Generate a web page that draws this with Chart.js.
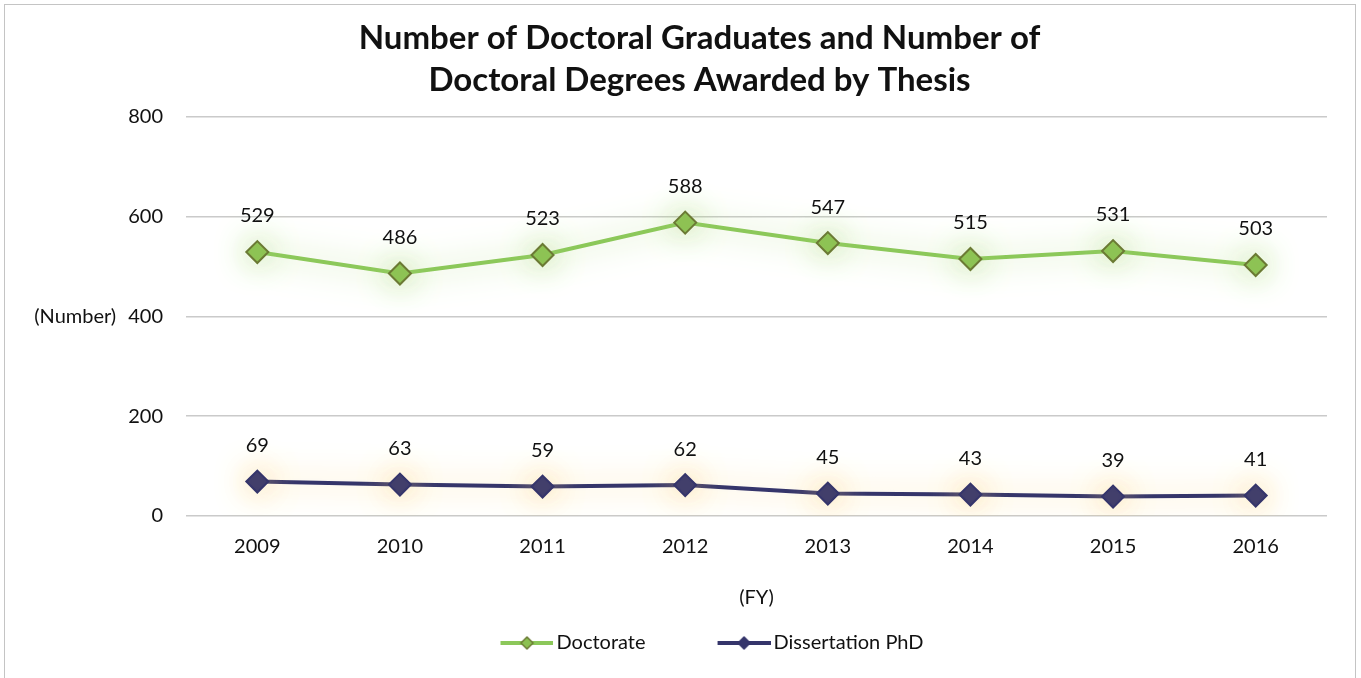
<!DOCTYPE html>
<html>
<head>
<meta charset="utf-8">
<script src="https://cdn.jsdelivr.net/npm/chart.js@4.4.1/dist/chart.umd.min.js"></script>
<style>
  html, body { margin: 0; padding: 0; background: #fff; overflow: hidden; }
  #wrap { position: relative; width: 1361px; height: 678px; }
  #frame { position: absolute; left: 4px; top: 4px; width: 1350px; height: 700px; border: 1.5px solid #c4c4c4; pointer-events: none; }
</style>
</head>
<body>
<div id="wrap">
  <canvas id="grafico" width="1361" height="678"></canvas>
  <div id="frame"></div>
</div>
<script>
const years = ['2009', '2010', '2011', '2012', '2013', '2014', '2015', '2016'];
const doctorate = [529, 486, 523, 588, 547, 515, 531, 503];
const dissertationPhd = [69, 63, 59, 62, 45, 43, 39, 41];
const yTicks = [0, 200, 400, 600, 800];
const yAxisLabel = '(Number)';

const FONT = 'Lato, "Open Sans", sans-serif';
const glowColors = ['rgba(170, 215, 120, 1)', 'rgba(246, 205, 120, 1)'];

// legend icon: empty lead on the left (item spacing), then line with a diamond
const BOX_W = 71;
function legendIcon(lineColor, fill, border) {
  const c = document.createElement('canvas');
  c.width = 85; c.height = 16;
  const g = c.getContext('2d');
  g.strokeStyle = lineColor;
  g.lineWidth = 4;
  g.beginPath(); g.moveTo(32, 8); g.lineTo(85, 8); g.stroke();
  const cx = 58.5;
  g.beginPath();
  g.moveTo(cx, 2); g.lineTo(cx + 6, 8); g.lineTo(cx, 14); g.lineTo(cx - 6, 8); g.closePath();
  g.fillStyle = fill; g.fill();
  g.lineWidth = 1.5; g.strokeStyle = border; g.stroke();
  return c;
}
const icons = [
  legendIcon('#8cc85a', '#8cc152', '#6b7a34'),
  legendIcon('#35356b', '#35356b', '#35356b')
];

const glow = {
  id: 'glow',
  beforeDatasetDraw(chart, args) {
    const ctx = chart.ctx;
    ctx.save();
    ctx.shadowColor = glowColors[args.index];
    ctx.shadowBlur = 32;
  },
  afterDatasetDraw(chart) {
    chart.ctx.restore();
  }
};

const valueLabels = {
  id: 'valueLabels',
  afterDatasetsDraw(chart) {
    const ctx = chart.ctx;
    ctx.save();
    ctx.font = '20px ' + FONT;
    ctx.fillStyle = '#111';
    ctx.textAlign = 'center';
    ctx.textBaseline = 'middle';
    chart.data.datasets.forEach((ds, i) => {
      chart.getDatasetMeta(i).data.forEach((p, j) => {
        ctx.fillText(ds.data[j], p.x, p.y - 36);
      });
    });
    ctx.restore();
  }
};

// "(Number)" sits horizontally left of the 400 tick
const sideLabel = {
  id: 'sideLabel',
  afterDraw(chart) {
    const ctx = chart.ctx;
    const y = chart.scales.y;
    ctx.save();
    ctx.font = '20px ' + FONT;
    ctx.fillStyle = '#111';
    ctx.textAlign = 'right';
    ctx.textBaseline = 'middle';
    const x = y.right - 23 - ctx.measureText('400').width - 12;
    ctx.fillText(yAxisLabel, x, y.getPixelForValue(400));
    ctx.restore();
  }
};

new Chart(document.getElementById('grafico'), {
  type: 'line',
  data: {
    labels: years,
    datasets: [{
      label: 'Doctorate',
      data: doctorate,
      borderColor: '#8cc85a',
      borderWidth: 4,
      pointStyle: 'rectRot',
      pointRadius: 11,
      pointHoverRadius: 11,
      pointBackgroundColor: '#8cc152',
      pointBorderColor: '#6b7a34',
      pointBorderWidth: 2,
      tension: 0
    }, {
      label: 'Dissertation PhD',
      data: dissertationPhd,
      borderColor: '#35356b',
      borderWidth: 4,
      pointStyle: 'rectRot',
      pointRadius: 11,
      pointHoverRadius: 11,
      pointBackgroundColor: '#35356b',
      pointBorderColor: '#35356b',
      pointBorderWidth: 2,
      tension: 0
    }]
  },
  options: {
    responsive: false,
    animation: false,
    devicePixelRatio: 1,
    layout: { padding: { left: 72, right: 34, top: 0, bottom: 15 } },
    plugins: {
      title: {
        display: true,
        text: ['Number of Doctoral Graduates and Number of', 'Doctoral Degrees Awarded by Thesis'],
        color: '#111',
        font: { family: FONT, size: 33, weight: 'bold', lineHeight: 1.27 },
        padding: { top: 17, bottom: 16 }
      },
      legend: {
        position: 'bottom',
        labels: {
          usePointStyle: true,
          pointStyleWidth: BOX_W,
          padding: 47,
          color: '#111',
          font: { family: FONT, size: 20 },
          generateLabels: chart => chart.data.datasets.map((ds, i) => ({
            text: ds.label,
            pointStyle: icons[i],
            datasetIndex: i,
            hidden: false,
            fontColor: '#111',
            lineWidth: 0,
            strokeStyle: 'transparent',
            fillStyle: 'transparent'
          }))
        }
      },
      tooltip: { enabled: false }
    },
    scales: {
      x: {
        offset: true,
        grid: { display: false, drawTicks: false },
        border: { display: false },
        ticks: { color: '#111', font: { family: FONT, size: 20 }, padding: 19 },
        title: {
          display: true,
          text: '(FY)',
          color: '#111',
          font: { family: FONT, size: 20 },
          padding: { top: 8, bottom: -24 }
        }
      },
      y: {
        min: 0,
        max: 800,
        afterBuildTicks: scale => { scale.ticks = yTicks.map(v => ({ value: v })); },
        afterFit: scale => { scale.width = 114; },
        grid: { color: '#cacaca', lineWidth: 1.5, drawTicks: false },
        border: { display: false },
        ticks: {
          color: '#111',
          font: { family: FONT, size: 20 },
          padding: 23
        }
      }
    }
  },
  plugins: [glow, valueLabels, sideLabel]
});
</script>
</body>
</html>
